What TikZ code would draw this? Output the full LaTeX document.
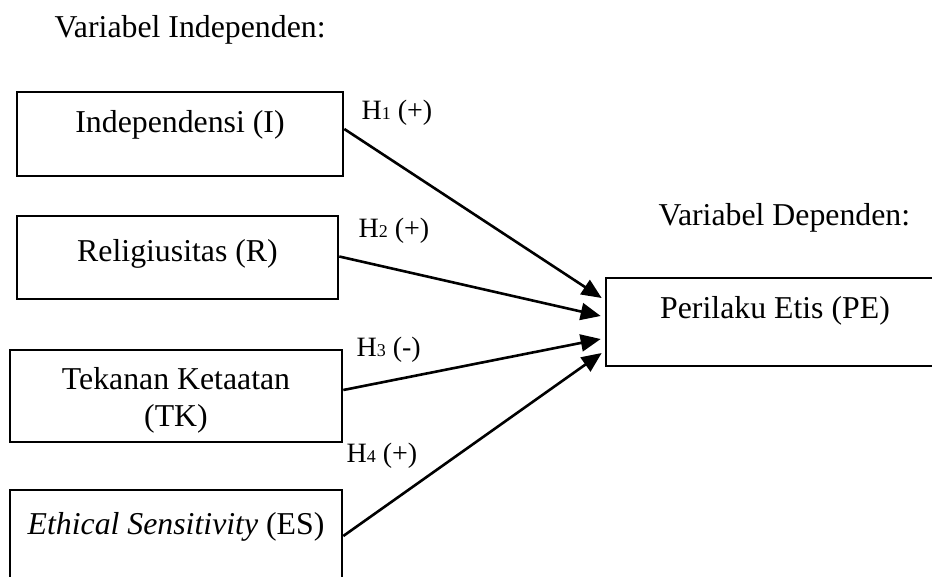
\documentclass[tikz,border=0pt]{standalone}
\usepackage{fontspec}
\setmainfont{Liberation Serif}
\usetikzlibrary{calc,arrows.meta}

\begin{document}
\begin{tikzpicture}[x=1pt,y=-1pt,
    font=\fontsize{31.8}{37}\selectfont,
    varbox/.style={draw,line width=2.6pt,inner sep=0pt},
    hlabel/.style={anchor=base west,font=\fontsize{28}{32}\selectfont},
    hyp/.style={-{Triangle[length=20pt,width=17pt]},line width=2.6pt}]
    \useasboundingbox (0,0) rectangle (932,576);
    \clip (0,0) rectangle (932,576);
    \newcommand{\hnum}[1]{{\fontsize{18}{20}\selectfont #1}}
    \node[anchor=base west] (judulI) at (51,37) {Variabel Independen:};
    \node[anchor=base west] (judulD) at (655,225) {Variabel Dependen:};
    \node[varbox,minimum width=326pt,minimum height=84pt,
        label={[yshift=9pt]center:Independensi (I)}] (I) at (180,134) {};
    \node[varbox,minimum width=321pt,minimum height=83pt,
        label={[yshift=4pt]center:Religiusitas (R)}] (R) at (177.5,257.5) {};
    \node[varbox,minimum width=332pt,minimum height=92pt,align=center,
        label={[yshift=-4pt,align=center]center:Tekanan Ketaatan\\(TK)}] (TK) at (176,396) {};
    \node[varbox,minimum width=332pt,minimum height=92pt,
        label={[yshift=9pt]center:\textit{Ethical Sensitivity} (ES)}] (ES) at (176,536) {};
    \node[varbox,minimum width=338pt,minimum height=88pt,
        label={[yshift=11pt]center:Perilaku Etis (PE)}] (PE) at (775,322) {};
    \coordinate (tI) at ($(PE.west)+(-3,-24)$);
    \coordinate (tR) at ($(PE.west)+(-4,-6)$);
    \coordinate (tTK) at ($(PE.west)+(-4,17)$);
    \coordinate (tES) at ($(PE.west)+(-3,31)$);
    \draw[hyp] ($(I.east)+(0,-5)$) -- (tI);
    \draw[hyp] ($(R.east)+(0,-1)$) -- (tR);
    \draw[hyp] ($(TK.east)+(0,-6)$) -- (tTK);
    \draw[hyp] (ES.east) -- (tES);
    \node[hlabel] (hI) at (358,119) {H\hnum{1} (+)};
    \node[hlabel] (hR) at (355,237) {H\hnum{2} (+)};
    \node[hlabel] (hTK) at (353,356) {H\hnum{3} (-)};
    \node[hlabel] (hES) at (343,462) {H\hnum{4} (+)};
\end{tikzpicture}
\end{document}
